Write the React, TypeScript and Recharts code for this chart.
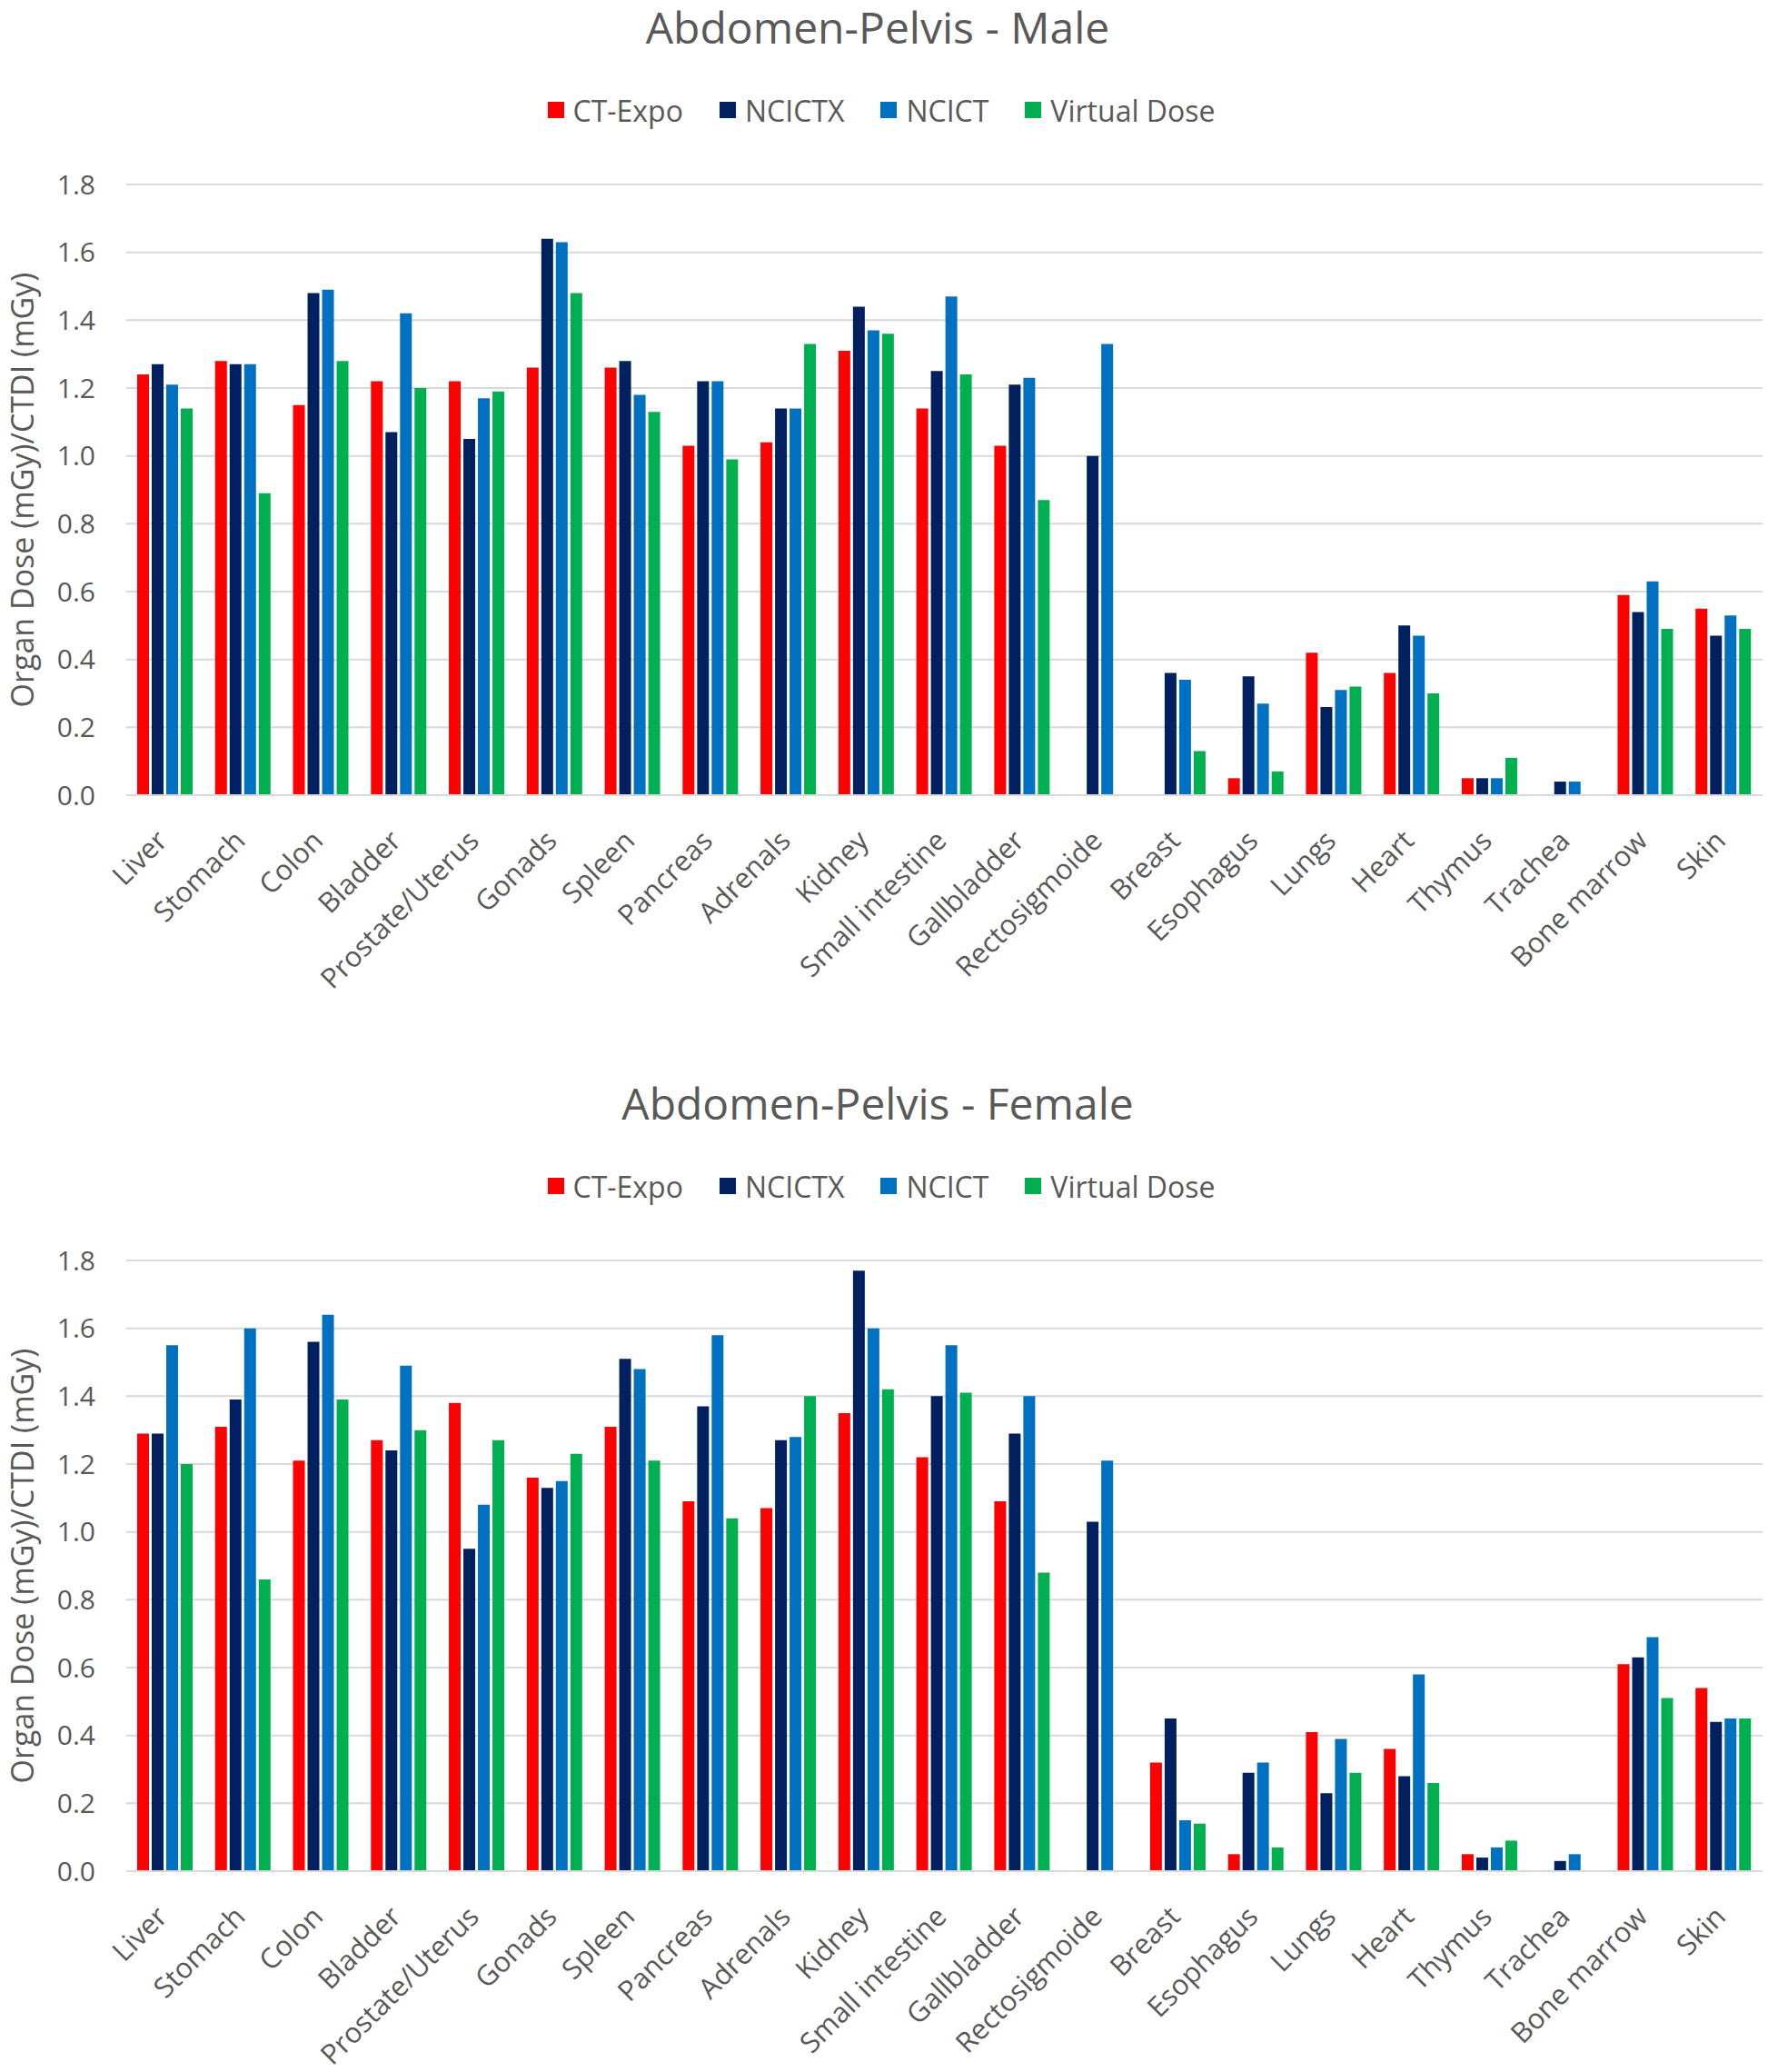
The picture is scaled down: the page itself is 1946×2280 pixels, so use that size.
import React from 'react';
import { BarChart, Bar, XAxis, YAxis, CartesianGrid, Legend } from 'recharts';

const organs = [
  'Liver', 'Stomach', 'Colon', 'Bladder', 'Prostate/Uterus', 'Gonads', 'Spleen',
  'Pancreas', 'Adrenals', 'Kidney', 'Small intestine', 'Gallbladder', 'Rectosigmoide',
  'Breast', 'Esophagus', 'Lungs', 'Heart', 'Thymus', 'Trachea', 'Bone marrow', 'Skin',
];

const yTicks = [0, 0.2, 0.4, 0.6, 0.8, 1.0, 1.2, 1.4, 1.6, 1.8];

// male
const maleCtExpo = [1.24, 1.28, 1.15, 1.22, 1.22, 1.26, 1.26, 1.03, 1.04, 1.31, 1.14, 1.03, null, null, 0.05, 0.42, 0.36, 0.05, null, 0.59, 0.55];
const maleNcictx = [1.27, 1.27, 1.48, 1.07, 1.05, 1.64, 1.28, 1.22, 1.14, 1.44, 1.25, 1.21, 1.0, 0.36, 0.35, 0.26, 0.5, 0.05, 0.04, 0.54, 0.47];
const maleNcict = [1.21, 1.27, 1.49, 1.42, 1.17, 1.63, 1.18, 1.22, 1.14, 1.37, 1.47, 1.23, 1.33, 0.34, 0.27, 0.31, 0.47, 0.05, 0.04, 0.63, 0.53];
const maleVirtual = [1.14, 0.89, 1.28, 1.2, 1.19, 1.48, 1.13, 0.99, 1.33, 1.36, 1.24, 0.87, null, 0.13, 0.07, 0.32, 0.3, 0.11, null, 0.49, 0.49];

// female
const femaleCtExpo = [1.29, 1.31, 1.21, 1.27, 1.38, 1.16, 1.31, 1.09, 1.07, 1.35, 1.22, 1.09, null, 0.32, 0.05, 0.41, 0.36, 0.05, null, 0.61, 0.54];
const femaleNcictx = [1.29, 1.39, 1.56, 1.24, 0.95, 1.13, 1.51, 1.37, 1.27, 1.77, 1.4, 1.29, 1.03, 0.45, 0.29, 0.23, 0.28, 0.04, 0.03, 0.63, 0.44];
const femaleNcict = [1.55, 1.6, 1.64, 1.49, 1.08, 1.15, 1.48, 1.58, 1.28, 1.6, 1.55, 1.4, 1.21, 0.15, 0.32, 0.39, 0.58, 0.07, 0.05, 0.69, 0.45];
const femaleVirtual = [1.2, 0.86, 1.39, 1.3, 1.27, 1.23, 1.21, 1.04, 1.4, 1.42, 1.41, 0.88, null, 0.14, 0.07, 0.29, 0.26, 0.09, null, 0.51, 0.45];

const series = [
  { key: 'ctExpo', label: 'CT-Expo', color: '#FF0000' },
  { key: 'ncictx', label: 'NCICTX', color: '#002060' },
  { key: 'ncict', label: 'NCICT', color: '#0070C0' },
  { key: 'virtual', label: 'Virtual Dose', color: '#00B050' },
];

const FONT = "'Open Sans', sans-serif";
const GREY = '#595959';

function buildRows(a: any[], b: any[], c: any[], d: any[]) {
  return organs.map((organ, i) => ({ organ, ctExpo: a[i], ncictx: b[i], ncict: c[i], virtual: d[i] }));
}

const maleRows = buildRows(maleCtExpo, maleNcictx, maleNcict, maleVirtual);
const femaleRows = buildRows(femaleCtExpo, femaleNcictx, femaleNcict, femaleVirtual);

const CategoryTick = ({ x, y, payload }: any) => {
  const tx = x + 4;
  const ty = y + 44;
  return (
    <text
      x={tx}
      y={ty}
      textAnchor="end"
      fill={GREY}
      fontSize={31}
      fontFamily={FONT}
      transform={`rotate(-45, ${tx}, ${ty})`}
    >
      {payload.value}
    </text>
  );
};

// legend keeps the series order (recharts would sort it by name)
const renderLegend = () => (
  <div style={{ display: 'flex', justifyContent: 'center', alignItems: 'center', height: 40, fontFamily: FONT, fontSize: 32, color: GREY }}>
    {series.map((s, i) => (
      <span key={s.key} style={{ display: 'flex', alignItems: 'center', marginLeft: i === 0 ? 0 : 40 }}>
        <span style={{ display: 'inline-block', width: 18, height: 18, background: s.color, marginRight: 10 }} />
        {s.label}
      </span>
    ))}
  </div>
);

function Panel({ title, rows, top }: { title: string; rows: any[]; top: number }) {
  return (
    <div style={{ position: 'absolute', left: 0, top, width: 1946, height: 1096 }}>
      <div
        style={{
          position: 'absolute', left: 0, top: 4, width: 1932, textAlign: 'center',
          fontFamily: FONT, fontSize: 48, lineHeight: '52px', color: GREY,
        }}
      >
        {title}
      </div>
      <BarChart
        width={1946}
        height={1096}
        data={rows}
        margin={{ top: 203, right: 6, left: 0, bottom: 0 }}
        barSize={13}
        barGap={3}
      >
        <CartesianGrid vertical={false} stroke="#D9D9D9" strokeWidth={2} />
        <XAxis
          dataKey="organ"
          interval={0}
          height={221}
          tickLine={false}
          axisLine={{ stroke: '#D9D9D9', strokeWidth: 2 }}
          tick={<CategoryTick />}
        />
        <YAxis
          width={139}
          domain={[0, 1.8]}
          ticks={yTicks}
          tickFormatter={(v: number) => v.toFixed(1)}
          axisLine={false}
          tickLine={false}
          tickMargin={28}
          tick={{ fill: GREY, fontSize: 30, fontFamily: FONT }}
          label={{
            value: 'Organ Dose (mGy)/CTDI (mGy)',
            angle: -90,
            position: 'center',
            dx: -45,
            style: { fill: GREY, fontSize: 34, fontFamily: FONT },
          }}
        />
        <Legend
          verticalAlign="middle"
          align="center"
          content={renderLegend}
          wrapperStyle={{ top: 101, left: 0, width: 1940, height: 40 }}
        />
        {series.map((s) => (
          <Bar key={s.key} dataKey={s.key} name={s.label} fill={s.color} isAnimationActive={false} />
        ))}
      </BarChart>
    </div>
  );
}

export default function App() {
  return (
    <div style={{ position: 'absolute', left: 0, top: 0, width: 1946, height: 2280, background: '#fff' }}>
      <Panel title="Abdomen-Pelvis - Male" rows={maleRows} top={0} />
      <Panel title="Abdomen-Pelvis - Female" rows={femaleRows} top={1184} />
    </div>
  );
}
